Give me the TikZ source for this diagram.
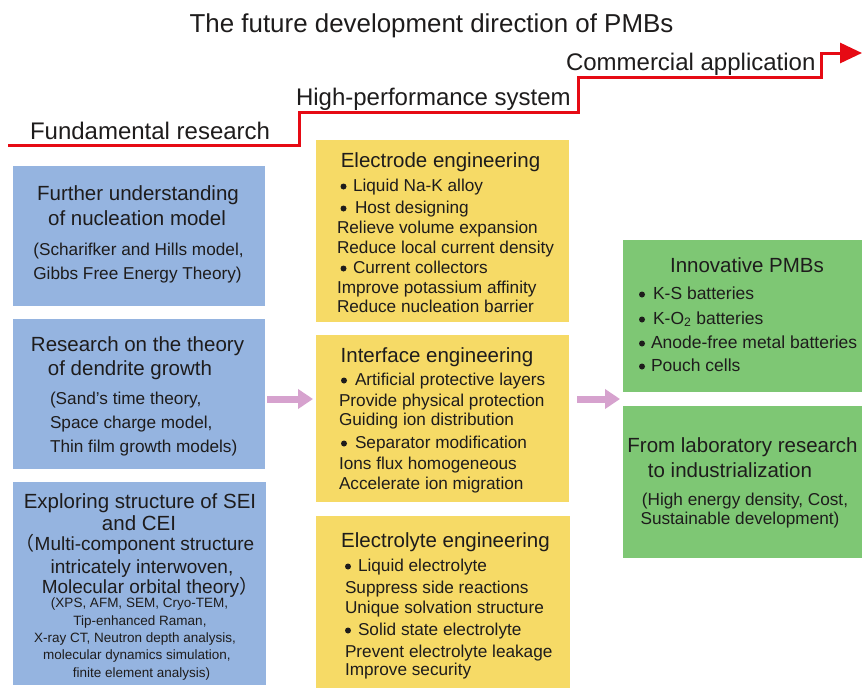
\documentclass[tikz,border=0pt]{standalone}
\usepackage{fontspec}
\setmainfont{Liberation Sans}
\newfontfamily\cjk{Noto Sans CJK SC}
\usetikzlibrary{arrows.meta,calc}
\definecolor{bluefill}{RGB}{149,180,224}
\definecolor{yellowfill}{RGB}{246,218,102}
\definecolor{greenfill}{RGB}{126,199,116}
\definecolor{pinkarrow}{RGB}{214,162,206}
\definecolor{redline}{RGB}{230,10,20}
\definecolor{ink}{RGB}{30,28,28}
\begin{document}
\begin{tikzpicture}[x=1pt,y=-1pt,
  box/.style={anchor=north west, inner sep=0pt, outer sep=0pt},
  bluebox/.style={box, fill=bluefill},
  yellowbox/.style={box, fill=yellowfill},
  greenbox/.style={box, fill=greenfill},
  t/.style={inner sep=0pt, outer sep=0pt, text=ink, yshift=-1.5pt},
  ttl/.style={t, font=\fontsize{25.9}{30}\selectfont, text height=19.4pt, text depth=5.4pt},
  stp/.style={t, font=\fontsize{24}{28}\selectfont, text height=18pt, text depth=5pt},
  hd/.style={t, font=\fontsize{20.5}{24}\selectfont, text height=15.4pt, text depth=4.3pt},
  bd/.style={t, font=\fontsize{17.2}{20}\selectfont, text height=12.9pt, text depth=3.6pt},
  md/.style={t, font=\fontsize{19}{22}\selectfont, text height=14.3pt, text depth=4pt},
  sm/.style={t, font=\fontsize{13.5}{16}\selectfont, text height=10.1pt, text depth=2.8pt},
  gb/.style={t, font=\fontsize{17.5}{20}\selectfont, text height=13.1pt, text depth=3.7pt},
  bul/.style={fill=ink},
  conn/.style={draw=pinkarrow, line width=7pt, -{Triangle[length=15pt,width=19pt]}},
  stair/.style={draw=redline, line width=3pt, line join=miter, -{Triangle[length=22pt,width=20pt]}},
]
\useasboundingbox (0,0) rectangle (862,689);
\fill[white] (0,0) rectangle (862,689);

% title and staircase
\node[ttl] (title) at (431.5,24) {The future development direction of PMBs};
\coordinate (s0) at (8,145);
\coordinate (s1) at (299,112);
\coordinate (s2) at (578,77);
\coordinate (s3) at (821,53);
\coordinate (s4) at (862,53);
\draw[stair] (s0) -| (s1) -| (s2) -| (s3) -- (s4);
\node[stp, anchor=west] (lab1) at (30,131) {Fundamental research};
\node[stp, anchor=west] (lab2) at (296,97) {High-performance system};
\node[stp, anchor=west] (lab3) at (566,62) {Commercial application};

% boxes
\node[bluebox, minimum width=252pt, minimum height=140pt] (b1) at (13,166) {};
\node[bluebox, minimum width=252pt, minimum height=150pt] (b2) at (13,319) {};
\node[bluebox, minimum width=253pt, minimum height=203pt] (b3) at (13,482) {};
\node[yellowbox, minimum width=253pt, minimum height=182pt] (y1) at (316,140) {};
\node[yellowbox, minimum width=253pt, minimum height=167pt] (y2) at (316,335) {};
\node[yellowbox, minimum width=254pt, minimum height=172pt] (y3) at (316,516) {};
\node[greenbox, minimum width=239pt, minimum height=152pt] (g1) at (623,240) {};
\node[greenbox, minimum width=239pt, minimum height=152pt] (g2) at (623,406) {};

% connectors
\coordinate (gin) at ($(g1.south west)!0.5!(g2.north west)$);
\draw[conn, shorten <=2pt, shorten >=3pt] (b2.east |- gin) -- (y2.west |- gin);
\draw[conn, shorten <=8pt, shorten >=3pt] (y2.east |- gin) -- (gin);

% blue box 1
\node[hd] (b1a) at (138,193) {Further understanding};
\node[hd] (b1b) at (137,218) {of nucleation model};
\node[bd] (b1c) at (138.5,249) {(Scharifker and Hills model,};
\node[bd] (b1d) at (137.5,273) {Gibbs Free Energy Theory)};

% blue box 2
\node[hd] (b2a) at (137.5,344) {Research on the theory};
\node[hd] (b2b) at (130,368) {of dendrite growth};
\node[bd, anchor=west] (b2c) at (50,398) {(Sand\char39 s time theory,};
\node[bd, anchor=west] (b2d) at (50,422) {Space charge model,};
\node[bd, anchor=west] (b2e) at (50,446) {Thin film growth models)};

% blue box 3
\node[hd] (b3a) at (140,501) {Exploring structure of SEI};
\node[hd] (b3b) at (139,523) {and CEI};
\node[md] (b3c) at (135,544) {{\cjk （}Multi-component structure};
\node[md] (b3d) at (142,567) {intricately interwoven,};
\node[md] (b3e) at (150,587) {Molecular orbital theory{\cjk ）}};
\node[sm] (b3f) at (139.5,602) {(XPS, AFM, SEM, Cryo-TEM,};
\node[sm] (b3g) at (140,620) {Tip-enhanced Raman,};
\node[sm] (b3h) at (135,637) {X-ray CT, Neutron depth analysis,};
\node[sm] (b3i) at (137,654) {molecular dynamics simulation,};
\node[sm] (b3j) at (141.5,672) {finite element analysis)};

% yellow box 1
\node[hd] (y1a) at (440.5,160) {Electrode engineering};
\fill[bul] (343.5,186.5) circle (3);
\node[bd, anchor=west] (y1b) at (353,185) {Liquid Na-K alloy};
\fill[bul] (343.5,208.5) circle (3);
\node[bd, anchor=west] (y1c) at (355,207) {Host designing};
\node[bd, anchor=west] (y1d) at (337,227) {Relieve volume expansion};
\node[bd, anchor=west] (y1e) at (337,247) {Reduce local current density};
\fill[bul] (343.5,268.5) circle (3);
\node[bd, anchor=west] (y1f) at (353,267) {Current collectors};
\node[bd, anchor=west] (y1g) at (337,287) {Improve potassium affinity};
\node[bd, anchor=west] (y1h) at (337,306) {Reduce nucleation barrier};

% yellow box 2
\node[hd] (y2a) at (437,355) {Interface engineering};
\fill[bul] (344,380.5) circle (3);
\node[bd, anchor=west] (y2b) at (355,379) {Artificial protective layers};
\node[bd, anchor=west] (y2c) at (339,400) {Provide physical protection};
\node[bd, anchor=west] (y2d) at (339,419) {Guiding ion distribution};
\fill[bul] (344,443.5) circle (3);
\node[bd, anchor=west] (y2e) at (355,442) {Separator modification};
\node[bd, anchor=west] (y2f) at (339,463) {Ions flux homogeneous};
\node[bd, anchor=west] (y2g) at (339,483) {Accelerate ion migration};

% yellow box 3
\node[hd] (y3a) at (445.5,540) {Electrolyte engineering};
\fill[bul] (348,566.5) circle (3);
\node[bd, anchor=west] (y3b) at (358,565) {Liquid electrolyte};
\node[bd, anchor=west] (y3c) at (345,587) {Suppress side reactions};
\node[bd, anchor=west] (y3d) at (345,607) {Unique solvation structure};
\fill[bul] (348,630.5) circle (3);
\node[bd, anchor=west] (y3e) at (358,629) {Solid state electrolyte};
\node[bd, anchor=west] (y3f) at (345,651) {Prevent electrolyte leakage};
\node[bd, anchor=west] (y3g) at (345,669) {Improve security};

% green box 1
\node[hd] (g1a) at (747,265) {Innovative PMBs};
\fill[bul] (642,294.5) circle (3);
\node[gb, anchor=west] (g1b) at (653,293) {K-S batteries};
\fill[bul] (642,319.5) circle (3);
\node[gb, anchor=west] (g1c) at (653,318) {K-O\textsubscript{2} batteries};
\fill[bul] (642,343.5) circle (3);
\node[gb, anchor=west] (g1d) at (651,342) {Anode-free metal batteries};
\fill[bul] (642,366.5) circle (3);
\node[gb, anchor=west] (g1e) at (651,365) {Pouch cells};

% green box 2
\node[hd] (g2a) at (742.5,445) {From laboratory research};
\node[hd] (g2b) at (730,470) {to industrialization};
\node[bd] (g2c) at (745,499) {(High energy density, Cost,};
\node[bd] (g2d) at (740,518) {Sustainable development)};
\end{tikzpicture}
\end{document}
